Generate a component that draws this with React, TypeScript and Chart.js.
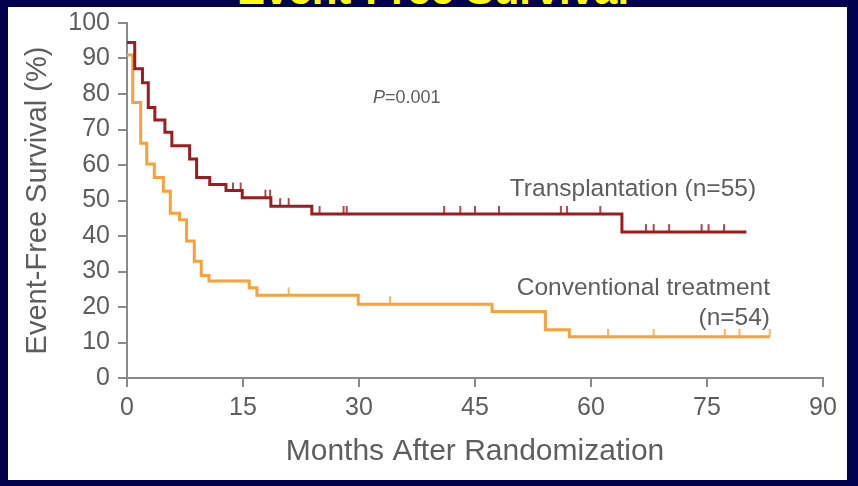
import React, { useEffect, useRef } from "react";
import { Chart, registerables } from "chart.js";

Chart.register(...registerables);

// Kaplan-Meier step data (months, % event-free)
const transplantTimes = [0, 1.0, 2.0, 2.75, 3.6, 4.9, 5.8, 8.1, 9.0, 10.7, 12.8, 14.9, 18.6, 23.9, 64.0, 80.1];
const transplantSurvival = [94.5, 87.1, 83.2, 76.2, 72.7, 69.2, 65.4, 61.7, 56.5, 54.5, 52.8, 50.8, 48.4, 46.2, 41.1, 41.1];
const transplantCensored = [13.7, 14.7, 17.9, 18.5, 19.8, 20.9, 24.9, 28.0, 28.4, 41.0, 43.1, 45.0, 48.1, 56.1, 56.9, 61.2, 67.1, 68.1, 70.1, 74.3, 75.2, 77.2];

const conventionalTimes = [0, 0.74, 1.77, 2.55, 3.53, 4.7, 5.6, 6.8, 7.7, 8.7, 9.6, 10.6, 15.8, 16.8, 29.9, 47.2, 54.1, 57.2, 83.1];
const conventionalSurvival = [91.0, 77.6, 66.1, 60.3, 56.5, 52.6, 46.4, 44.6, 38.6, 32.9, 28.9, 27.3, 25.4, 23.3, 20.8, 18.7, 13.6, 11.6, 11.6];
const conventionalCensored = [20.9, 34.0, 62.2, 68.1, 77.3, 79.2, 83.1];

const xTickStep = 15;
const yTickStep = 10;

const RED = "#9c1c21";
const ORANGE = "#f9a13a";
const AXIS = "#8a8a8a";
const TEXT = "#5e5e5e";
const FONT = "'Liberation Sans', Arial, Helvetica, sans-serif";

function valueAt(times: number[], surv: number[], t: number) {
  let v = surv[0];
  for (let i = 0; i < times.length; i++) {
    if (times[i] <= t) v = surv[i];
  }
  return v;
}

function makeTick(color: string) {
  const c = document.createElement("canvas");
  c.width = 4;
  c.height = 18;
  const g = c.getContext("2d")!;
  g.strokeStyle = color;
  g.lineWidth = 1.6;
  g.beginPath();
  g.moveTo(2, 1);
  g.lineTo(2, 9);
  g.stroke();
  return c;
}

const annotations = {
  id: "annotations",
  afterDraw(chart: any) {
    const { ctx } = chart;
    const xs = chart.scales.x;
    const ys = chart.scales.y;
    ctx.save();
    ctx.fillStyle = TEXT;
    ctx.textBaseline = "middle";
    // P value
    const px = xs.getPixelForValue(31.8);
    const py = ys.getPixelForValue(78.9);
    ctx.textAlign = "left";
    ctx.font = `italic 18px ${FONT}`;
    ctx.fillText("P", px, py);
    const pw = ctx.measureText("P").width;
    ctx.font = `18px ${FONT}`;
    ctx.fillText("=0.001", px + pw, py);
    ctx.font = `24.5px ${FONT}`;
    ctx.fillText("Transplantation (n=55)", xs.getPixelForValue(49.5), ys.getPixelForValue(53.1));
    ctx.textAlign = "right";
    ctx.fillText("Conventional treatment", xs.getPixelForValue(83.15), ys.getPixelForValue(25.3));
    ctx.fillText("(n=54)", xs.getPixelForValue(83.15), ys.getPixelForValue(16.9));
    ctx.restore();
  },
};

export default function App() {
  const ref = useRef<HTMLCanvasElement | null>(null);
  useEffect(() => {
    if (!ref.current) return;
    const redTick = makeTick(RED);
    const orangeTick = makeTick(ORANGE);
    const chart = new Chart(ref.current, {
      type: "line",
      data: {
        datasets: [
          {
            label: "Transplantation",
            data: transplantTimes.map((t, i) => ({ x: t, y: transplantSurvival[i] })),
            borderColor: RED,
            borderWidth: 3,
            stepped: "before",
            pointRadius: 0,
            fill: false,
          },
          {
            label: "Conventional treatment",
            data: conventionalTimes.map((t, i) => ({ x: t, y: conventionalSurvival[i] })),
            borderColor: ORANGE,
            borderWidth: 3,
            stepped: "before",
            pointRadius: 0,
            fill: false,
          },
          {
            label: "Transplantation censored",
            data: transplantCensored.map((t) => ({ x: t, y: valueAt(transplantTimes, transplantSurvival, t) })),
            showLine: false,
            pointStyle: redTick as any,
            pointRadius: 5,
          },
          {
            label: "Conventional censored",
            data: conventionalCensored.map((t) => ({ x: t, y: valueAt(conventionalTimes, conventionalSurvival, t) })),
            showLine: false,
            pointStyle: orangeTick as any,
            pointRadius: 5,
          },
        ],
      },
      options: {
        responsive: false,
        animation: false,
        layout: { padding: { left: 20, top: 22, right: 35, bottom: 0 } },
        plugins: { legend: { display: false }, tooltip: { enabled: false }, title: { display: false } },
        scales: {
          x: {
            type: "linear",
            min: 0,
            max: 90,
            ticks: { stepSize: xTickStep, color: TEXT, font: { size: 25, family: FONT }, padding: 6 },
            grid: { drawOnChartArea: false, drawTicks: true, tickLength: 9, color: AXIS, lineWidth: 2 },
            border: { display: true, color: AXIS, width: 2 },
            title: {
              display: true,
              text: "Months After Randomization",
              color: TEXT,
              font: { size: 30, family: FONT },
              padding: { top: 0, bottom: 16 },
            },
            afterFit: (s: any) => {
              s.height = 108;
            },
          },
          y: {
            type: "linear",
            min: 0,
            max: 100,
            ticks: { stepSize: yTickStep, color: TEXT, font: { size: 25, family: FONT }, padding: 8 },
            grid: { drawOnChartArea: false, drawTicks: true, tickLength: 9, color: AXIS, lineWidth: 2 },
            border: { display: true, color: AXIS, width: 2 },
            title: {
              display: true,
              text: "Event-Free Survival (%)",
              color: TEXT,
              font: { size: 29, family: FONT },
              padding: { top: 1, bottom: 0 },
            },
            afterFit: (s: any) => {
              s.width = 107;
            },
          },
        },
      },
      plugins: [annotations],
    });
    return () => chart.destroy();
  }, []);

  return (
    <div style={{ position: "absolute", left: 0, top: 0, width: 858, height: 486, background: "#010150", overflow: "hidden" }}>
      <div
        style={{
          position: "absolute",
          left: 0,
          top: -31,
          width: 866,
          textAlign: "center",
          color: "#ffff00",
          font: `bold 42px ${FONT}`,
          lineHeight: "42px",
          whiteSpace: "nowrap",
        }}
      >
        Event-Free Survival
      </div>
      <div style={{ position: "absolute", left: 8, top: 7, width: 839, height: 473, background: "#ffffff" }} />
      <canvas ref={ref} width={858} height={486} style={{ position: "absolute", left: 0, top: 0, display: "block" }} />
    </div>
  );
}
